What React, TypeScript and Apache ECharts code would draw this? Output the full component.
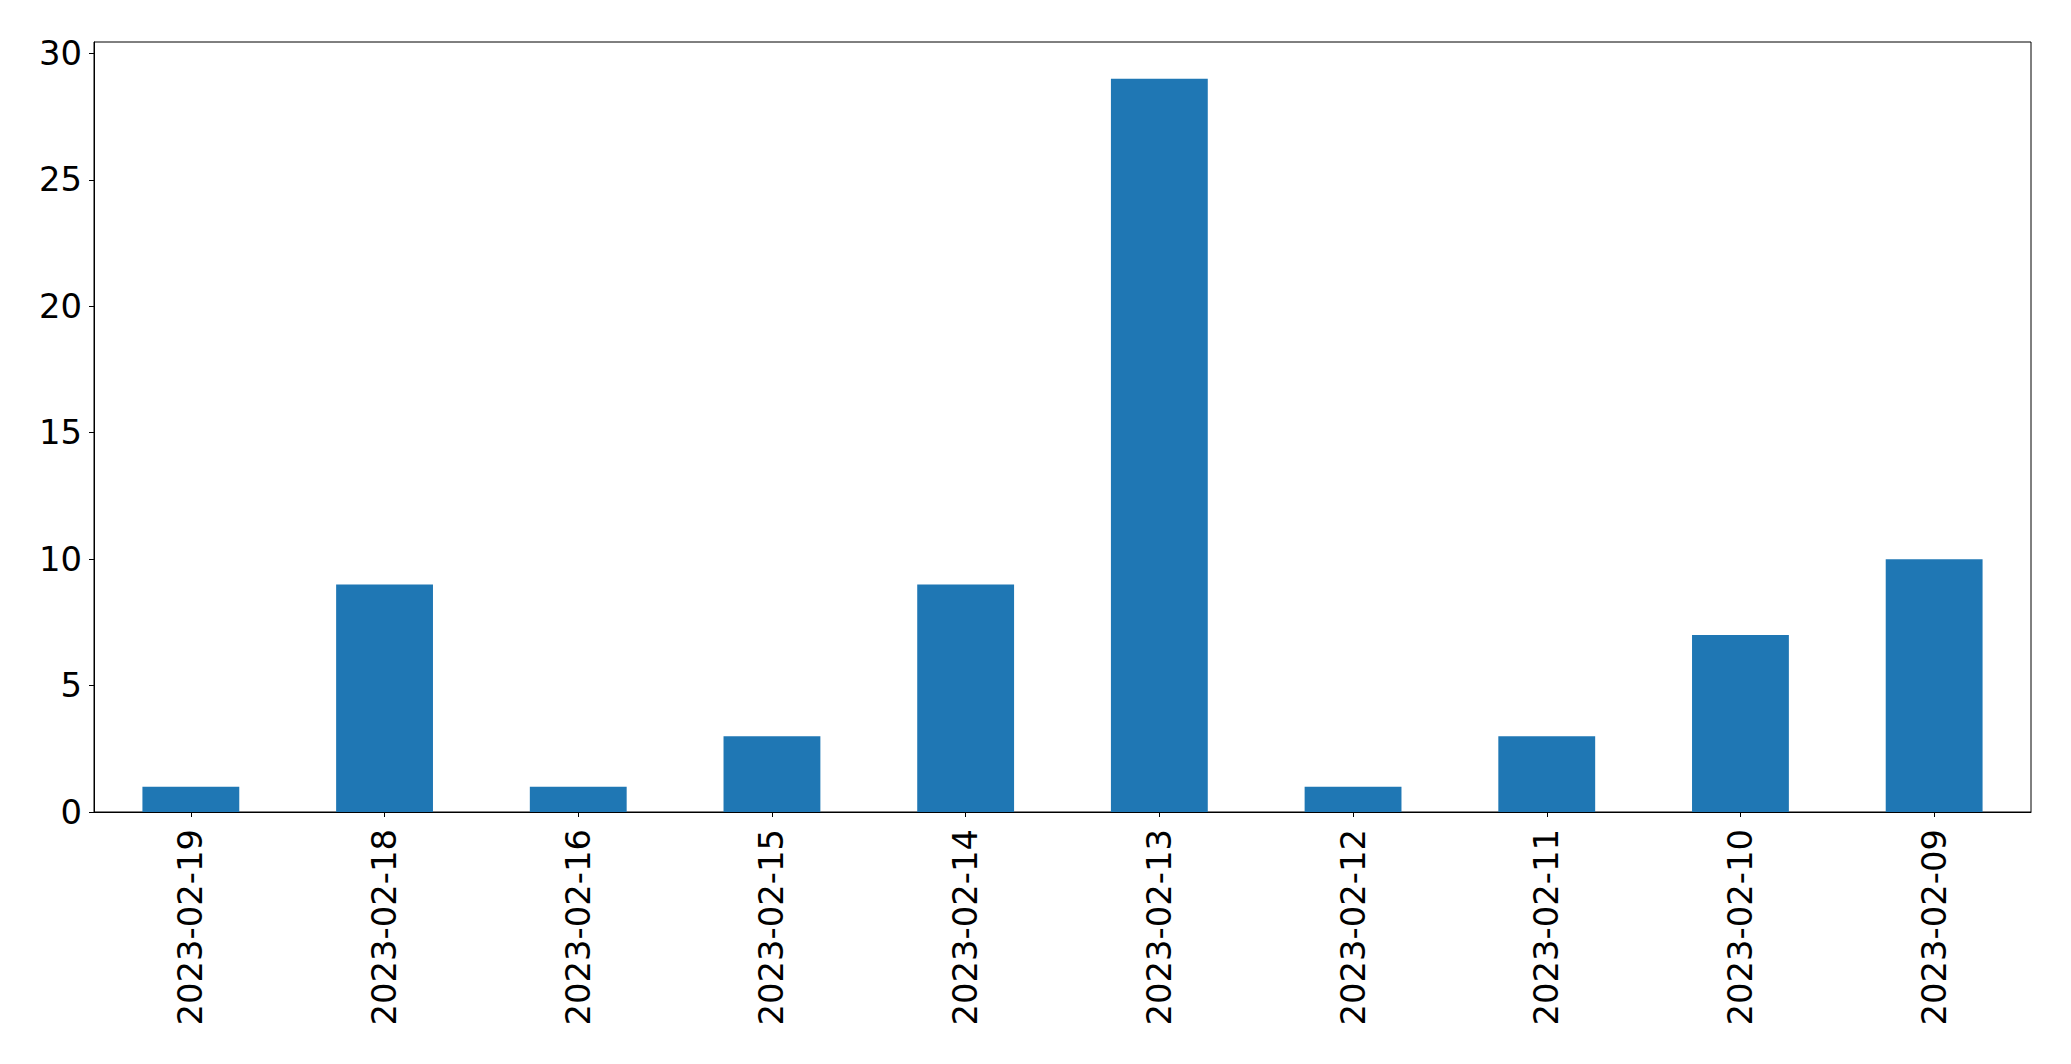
import React, { useEffect, useRef } from "react";
import * as echarts from "echarts";

const categories = [
  "2023-02-19",
  "2023-02-18",
  "2023-02-16",
  "2023-02-15",
  "2023-02-14",
  "2023-02-13",
  "2023-02-12",
  "2023-02-11",
  "2023-02-10",
  "2023-02-09",
];
const counts = [1, 9, 1, 3, 9, 29, 1, 3, 7, 10];
const yTicks = [0, 5, 10, 15, 20, 25, 30];

export default function App() {
  const ref = useRef<HTMLDivElement>(null);
  useEffect(() => {
    if (!ref.current) return;
    const chart = echarts.init(ref.current, undefined, { renderer: "svg" });
    const font = "DejaVu Sans";
    chart.setOption({
      animation: false,
      backgroundColor: "#ffffff",
      grid: {
        left: 94,
        top: 42,
        right: 40,
        bottom: 252,
        show: true,
        borderColor: "#000000",
        borderWidth: 1,
        backgroundColor: "transparent",
      },
      xAxis: {
        type: "category",
        data: categories,
        boundaryGap: true,
        axisLine: { show: true, lineStyle: { color: "#000000", width: 1 } },
        axisTick: {
          show: true,
          alignWithLabel: true,
          length: 5,
          lineStyle: { color: "#000000", width: 1 },
        },
        axisLabel: {
          rotate: 90,
          margin: 17,
          fontSize: 33.8,
          fontFamily: font,
          color: "#000000",
          interval: 0,
        },
        splitLine: { show: false },
      },
      yAxis: {
        type: "value",
        min: 0,
        max: 30.45,
        interval: 5,
        axisLine: { show: true, lineStyle: { color: "#000000", width: 1 } },
        axisTick: {
          show: true,
          length: 5,
          customValues: yTicks,
          lineStyle: { color: "#000000", width: 1 },
        },
        axisLabel: {
          margin: 12,
          fontSize: 33.8,
          fontFamily: font,
          color: "#000000",
          customValues: yTicks,
        },
        splitLine: { show: false },
      },
      series: [
        {
          type: "bar",
          data: counts,
          barWidth: "50%",
          itemStyle: { color: "#1f77b4" },
        },
      ],
    });
    return () => chart.dispose();
  }, []);
  return (
    <div
      ref={ref}
      style={{ position: "absolute", left: 0, top: 0, width: 2071, height: 1064 }}
    />
  );
}
